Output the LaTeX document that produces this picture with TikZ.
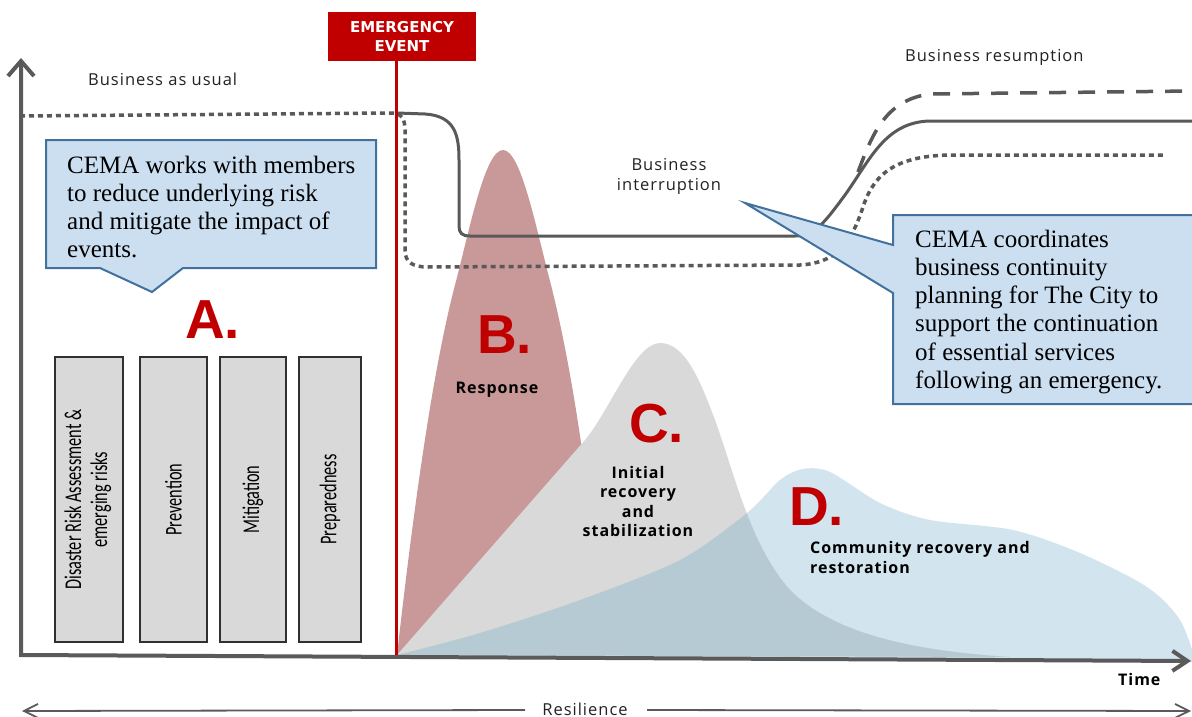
\documentclass[tikz,border=0pt]{standalone}
\usepackage{fontspec}
\setmainfont{Liberation Serif}
\newfontfamily\osans{Open Sans}[LetterSpace=6]
\newfontfamily\dvb{DejaVu Sans}
\newfontfamily\carl{Carlito}
\newfontfamily\lsans{Liberation Sans}
\usetikzlibrary{arrows.meta}
\definecolor{axisgray}{HTML}{5A5A5A}
\definecolor{lineg}{HTML}{595959}
\definecolor{emred}{HTML}{C00000}
\definecolor{bfill}{HTML}{C99898}
\definecolor{cfill}{HTML}{D9D9D9}
\definecolor{dfill}{HTML}{D2E4EE}
\definecolor{cdfill}{HTML}{B6CAD4}
\definecolor{callfill}{HTML}{CCDFF1}
\definecolor{calldraw}{HTML}{41719C}
\definecolor{boxgray}{HTML}{D9D9D9}
\definecolor{boxline}{HTML}{303030}
\definecolor{txtgray}{HTML}{222222}
\newcommand{\txtlines}[2]{\begin{tabular}[t]{@{}#1@{}}#2\end{tabular}}
\newcommand{\cshapepath}{(397,655) -- (585,440) .. controls (610,410) and (635,343) .. (660,343) .. controls (685,343) and (700,380) .. (715,420) .. controls (735,475) and (750,545) .. (790,590) .. controls (830,630) and (900,650) .. (1010,657) -- cycle}
\newcommand{\dshapepath}{plot[smooth] coordinates {(397,655) (480,633) (580,600) (680,560) (747,513) (780,480) (803,469) (830,472) (880,503) (930,520) (1013,530) (1080,553) (1147,587) (1180,620) (1196,662)} -- cycle}
\begin{document}
\begin{tikzpicture}[x=1pt,y=-1pt,
  axisline/.style={draw=axisgray, line width=4pt, line join=miter},
  curveline/.style={draw=lineg, line width=3pt},
  dotline/.style={draw=lineg, line width=3.5pt, dash pattern=on 5pt off 4pt},
  dashline/.style={draw=lineg, line width=3.5pt, dash pattern=on 17pt off 12pt},
  callout/.style={fill=callfill, draw=calldraw, line width=2pt, line join=miter},
  calltext/.style={inner sep=0pt, anchor=base west, font=\fontsize{25}{28.3}\selectfont, text=black},
  gbox/.style={draw=boxline, fill=boxgray, line width=1.2pt, inner sep=0pt, font=\carl\fontsize{24}{26}\selectfont},
  lab/.style={inner sep=0pt, text=txtgray, font=\osans\fontsize{16.5}{20}\selectfont},
  blab/.style={inner sep=0pt, text=black, font=\osans\bfseries\fontsize{16}{19.5}\selectfont},
  bigletter/.style={inner sep=0pt, anchor=base west, text=emred, font=\lsans\bfseries\fontsize{55}{60}\selectfont},
  resline/.style={draw=axisgray, line width=1.8pt}
]
\clip (0,0) rectangle (1192,717);
\fill[white] (0,0) rectangle (1192,717);

% phase shapes
\fill[bfill] (397,655) .. controls (410,540) and (430,380) .. (455,285) .. controls (470,228) and (485,150) .. (503,150) .. controls (521,150) and (536,228) .. (551,285) .. controls (570,360) and (590,480) .. (605,655) -- cycle;
\fill[dfill] \dshapepath;
\fill[cfill] \cshapepath;
\begin{scope}
  \clip \cshapepath;
  \fill[cdfill] \dshapepath;
\end{scope}

% business curves
\draw[dotline] (20,116) -- (392,113) .. controls (402,113) and (405,120) .. (405,130) -- (405,250) .. controls (405,262) and (412,267) .. (428,267) -- (800,265) .. controls (835,263) and (850,245) .. (862,210) .. controls (872,178) and (890,156) .. (950,155) -- (1165,155);
\draw[curveline] (397,113) -- (425,114) .. controls (455,116) and (459,135) .. (459,160) -- (459,226) .. controls (459,233) and (462,236) .. (470,236) -- (795,236) .. controls (815,236) and (825,222) .. (845,195) .. controls (870,160) and (885,122) .. (930,121) -- (1192,121);
\draw[dashline] (858,172) .. controls (872,135) and (885,100) .. (930,94) -- (1192,91);

% axes
\coordinate (ytip) at (21,58);
\coordinate (orig) at (21,655);
\coordinate (xtip) at (1191,661);
\draw[axisline, {Straight Barb[length=15pt,width=26pt]}-{Straight Barb[length=15pt,width=20pt]}] (ytip) -- (orig) -- (xtip);

% emergency event
\node[fill=emred, minimum width=148pt, minimum height=49pt, inner sep=0pt] (emg) at (402,36.5) {};
\node[inner sep=0pt, anchor=base, text=white, font=\dvb\bfseries\fontsize{15}{19}\selectfont] (emgt) at (402,33) {\txtlines{c}{EMERGENCY\\EVENT}};
\coordinate (evbot) at (396,655);
\draw[emred, line width=3pt] (emg.south -| evbot) -- (evbot);

% callouts
\draw[callout] (46,140) -- (376,140) -- (376,268) -- (183,268) -- (152,292) -- (100,268) -- (46,268) -- cycle;
\node[calltext] (lefttext) at (67,173) {\txtlines{l}{CEMA works with members\\to reduce underlying risk\\and mitigate the impact of\\events.}};
\draw[callout] (893,215) -- (1200,215) -- (1200,404) -- (893,404) -- (893,293) -- (745,203) -- (893,245) -- cycle;
\node[calltext] (righttext) at (915,247) {\txtlines{l}{CEMA coordinates\\business continuity\\planning for The City to\\support the continuation\\of essential services\\following an emergency.}};

% labels
\node[lab, anchor=base west] (bau) at (88,85) {Business as usual};
\node[lab, anchor=base west] (bres) at (905,62) {Business resumption};
\node[lab, anchor=base] (bint) at (669,170) {\txtlines{c}{Business\\interruption}};

% phase letters
\node[bigletter] (la) at (185,338) {A.};
\node[bigletter] (lb) at (477,353) {B.};
\node[bigletter] (lc) at (629,442) {C.};
\node[bigletter] (ld) at (789,525) {D.};
\node[blab, anchor=base] (resp) at (497,393) {Response};
\node[blab, anchor=base, font=\osans\bfseries\fontsize{16}{19.6}\selectfont] (init) at (638,478) {\txtlines{c}{Initial\\recovery\\and\\stabilization}};
\node[blab, anchor=base west, font=\osans\bfseries\fontsize{16}{20}\selectfont] (comm) at (810,553) {\txtlines{l}{Community recovery and\\restoration}};
\node[blab, anchor=base west] (time) at (1118,685) {Time};

% A boxes
\node[gbox, minimum width=68pt, minimum height=285pt] (g1) at (89,499.5) {\rotatebox{90}{\scalebox{0.68}[1]{\txtlines{c}{Disaster Risk Assessment \&\\emerging risks}}}};
\node[gbox, minimum width=67pt, minimum height=285pt] (g2) at (173.5,499.5) {\rotatebox{90}{\scalebox{0.68}[1]{Prevention}}};
\node[gbox, minimum width=66pt, minimum height=285pt] (g3) at (253,499.5) {\rotatebox{90}{\scalebox{0.68}[1]{Mitigation}}};
\node[gbox, minimum width=62pt, minimum height=285pt] (g4) at (330,499.5) {\rotatebox{90}{\scalebox{0.68}[1]{Preparedness}}};

% resilience
\node[lab, anchor=base] (resil) at (585,715) {Resilience};
\coordinate (rl) at (22,711);
\coordinate (rr) at (1191,711);
\coordinate (ra) at (525,710);
\coordinate (rb) at (647,710);
\draw[resline, {Straight Barb[length=14pt,width=14pt]}-] (rl) -- (ra);
\draw[resline, -{Straight Barb[length=14pt,width=14pt]}] (rb) -- (rr);
\end{tikzpicture}
\end{document}
